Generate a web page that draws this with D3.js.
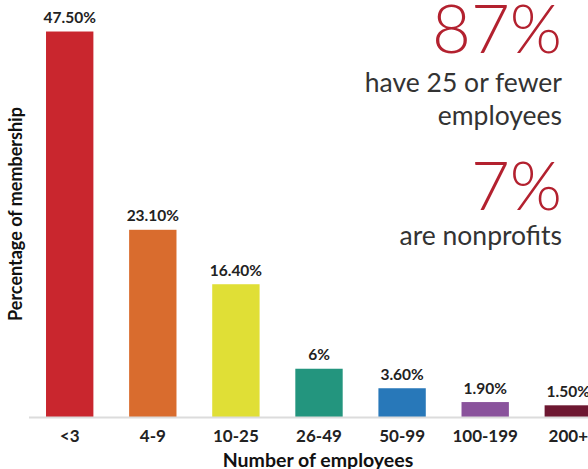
<!DOCTYPE html>
<html>
<head>
<meta charset="utf-8">
<script src="https://cdn.jsdelivr.net/npm/d3@7"></script>
<style>
  html, body { margin: 0; padding: 0; background: #fff; }
  svg { display: block; font-family: Lato, "Open Sans", sans-serif; }
</style>
</head>
<body>
<svg id="chart" width="588" height="469"></svg>
<script>
const categories = ["<3", "4-9", "10-25", "26-49", "50-99", "100-199", "200+"];
const values = [47.5, 23.1, 16.4, 6, 3.6, 1.9, 1.5];
const valueLabels = ["47.50%", "23.10%", "16.40%", "6%", "3.60%", "1.90%", "1.50%"];
const colors = ["#c9262e", "#d96c2e", "#e0df36", "#23957e", "#2878b9", "#8a539c", "#6d1731"];
const xTitle = "Number of employees";
const yTitle = "Percentage of membership";
const callouts = [
  { big: "87%", lines: ["have 25 or fewer", "employees"] },
  { big: "7%", lines: ["are nonprofits"] }
];

const svg = d3.select("#chart");
const baseY = 417.5;

const x = d3.scaleBand()
  .domain(categories)
  .range([29.4, 608.6])
  .paddingInner(0.43)
  .paddingOuter(0.2);

const y = d3.scaleLinear()
  .domain([0, 50])
  .range([baseY, baseY - 50 * 8.126]);

// bars
svg.append("g").selectAll("rect")
  .data(categories)
  .join("rect")
  .attr("x", d => x(d))
  .attr("width", x.bandwidth())
  .attr("y", (d, i) => y(values[i]))
  .attr("height", (d, i) => y(0) - y(values[i]))
  .attr("fill", (d, i) => colors[i]);

// value labels
svg.append("g").selectAll("text")
  .data(categories)
  .join("text")
  .attr("x", d => x(d) + x.bandwidth() / 2)
  .attr("y", (d, i) => y(values[i]) - 8.5)
  .attr("text-anchor", "middle")
  .attr("font-size", 15.5)
  .attr("font-weight", 700)
  .attr("fill", "#222")
  .text((d, i) => valueLabels[i]);

// x axis
const xAxis = svg.append("g")
  .attr("transform", `translate(0,${baseY})`)
  .call(d3.axisBottom(x).tickSize(0).tickPadding(12.5));
xAxis.select(".domain").attr("stroke", "#dcdcdc").attr("stroke-width", 2)
  .attr("d", `M29,0H588`);
xAxis.selectAll(".tick text")
  .attr("font-family", "Lato, sans-serif")
  .attr("font-size", 17)
  .attr("font-weight", 700)
  .attr("fill", "#222");

// axis titles
svg.append("text")
  .attr("x", 318)
  .attr("y", 467)
  .attr("text-anchor", "middle")
  .attr("font-size", 19.5)
  .attr("font-weight", 700)
  .attr("fill", "#111")
  .text(xTitle);

svg.append("text")
  .attr("transform", "translate(22,214) rotate(-90)")
  .attr("text-anchor", "middle")
  .attr("font-size", 18)
  .attr("font-weight", 700)
  .attr("fill", "#111")
  .text(yTitle);

// callouts
const rightX = 562;
const c = svg.append("g").attr("text-anchor", "end");
c.append("text").attr("x", rightX).attr("y", 53)
  .attr("font-size", 67).attr("font-weight", 300).attr("fill", "#b3212f")
  .text(callouts[0].big);
c.append("text").attr("x", rightX).attr("y", 92)
  .attr("font-size", 26.5).attr("font-weight", 400).attr("fill", "#333")
  .text(callouts[0].lines[0]);
c.append("text").attr("x", rightX).attr("y", 125)
  .attr("font-size", 26.5).attr("font-weight", 400).attr("fill", "#333")
  .text(callouts[0].lines[1]);
c.append("text").attr("x", rightX).attr("y", 210)
  .attr("font-size", 67).attr("font-weight", 300).attr("fill", "#b3212f")
  .text(callouts[1].big);
c.append("text").attr("x", rightX).attr("y", 245)
  .attr("font-size", 26.5).attr("font-weight", 400).attr("fill", "#333")
  .text(callouts[1].lines[0]);
</script>
</body>
</html>
